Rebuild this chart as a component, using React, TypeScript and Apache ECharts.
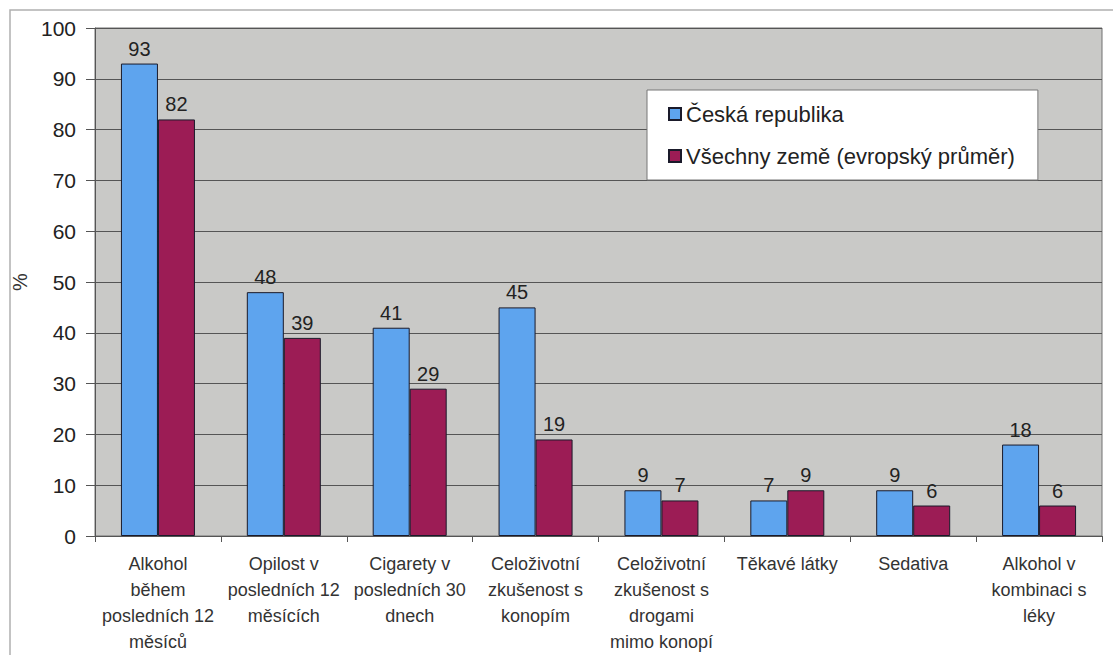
import React, { useEffect, useRef } from "react";
import * as echarts from "echarts";

const categories = [
  "Alkohol\nběhem\nposledních 12\nměsíců",
  "Opilost v\nposledních 12\nměsících",
  "Cigarety v\nposledních 30\ndnech",
  "Celoživotní\nzkušenost s\nkonopím",
  "Celoživotní\nzkušenost s\ndrogami\nmimo konopí",
  "Těkavé látky",
  "Sedativa",
  "Alkohol v\nkombinaci s\nléky",
];
const czech = [93, 48, 41, 45, 9, 7, 9, 18];
const europe = [82, 39, 29, 19, 7, 9, 6, 6];
const seriesNames = ["Česká republika", "Všechny země (evropský průměr)"];

export default function App() {
  const ref = useRef<HTMLDivElement>(null);
  useEffect(() => {
    const chart = echarts.init(ref.current!, null, { renderer: "svg" });
    const font = "Arial, 'Liberation Sans', sans-serif";
    const labelCfg = {
      show: true,
      position: "top",
      distance: 5,
      fontSize: 20,
      color: "#222",
      fontFamily: font,
    };
    chart.setOption({
      animation: false,
      backgroundColor: "#fff",
      textStyle: { fontFamily: font },
      graphic: [
        {
          type: "rect",
          shape: { x: 10, y: 10, width: 1120, height: 700 },
          style: { fill: "none", stroke: "#b0b0b0", lineWidth: 1.5 },
          z: -1,
        },
      ],
      grid: {
        left: 95,
        right: 11,
        top: 28,
        bottom: 118,
        show: true,
        backgroundColor: "#c9c9c7",
        borderColor: "#707070",
        borderWidth: 1,
      },
      legend: {
        left: 647,
        top: 90,
        orient: "vertical",
        backgroundColor: "#fff",
        borderColor: "#777",
        borderWidth: 1,
        padding: [13, 23, 13, 21],
        itemWidth: 12,
        itemHeight: 12,
        itemGap: 20,
        icon: "rect",
        textStyle: { fontSize: 22, color: "#222", fontFamily: font },
        data: seriesNames,
      },
      xAxis: {
        type: "category",
        data: categories,
        axisLine: { lineStyle: { color: "#555" } },
        axisTick: { show: true, length: 6, lineStyle: { color: "#555" } },
        axisLabel: {
          interval: 0,
          fontSize: 18,
          lineHeight: 26,
          color: "#333",
          margin: 15,
          fontFamily: font,
        },
      },
      yAxis: {
        type: "value",
        min: 0,
        max: 100,
        interval: 10,
        name: "%",
        nameLocation: "middle",
        nameGap: 55,
        nameRotate: 90,
        nameTextStyle: { fontSize: 20, color: "#333", fontFamily: font },
        axisLine: { show: true, lineStyle: { color: "#555" } },
        axisTick: { show: true, length: 9, lineStyle: { color: "#555" } },
        axisLabel: { fontSize: 21, color: "#222", margin: 19, fontFamily: font },
        splitLine: { lineStyle: { color: "#555", width: 1 } },
      },
      series: [
        {
          name: seriesNames[0],
          type: "bar",
          data: czech,
          barWidth: 37,
          barGap: "0%",
          itemStyle: { color: "#5ea4ee", borderColor: "#1a1a2a", borderWidth: 1 },
          label: labelCfg,
        },
        {
          name: seriesNames[1],
          type: "bar",
          data: europe,
          barWidth: 37,
          barGap: "0%",
          itemStyle: { color: "#9c1c55", borderColor: "#1a1a2a", borderWidth: 1 },
          label: labelCfg,
        },
      ],
    });
    return () => chart.dispose();
  }, []);
  return (
    <div
      ref={ref}
      style={{ position: "absolute", left: 0, top: 0, width: 1113, height: 655 }}
    />
  );
}
